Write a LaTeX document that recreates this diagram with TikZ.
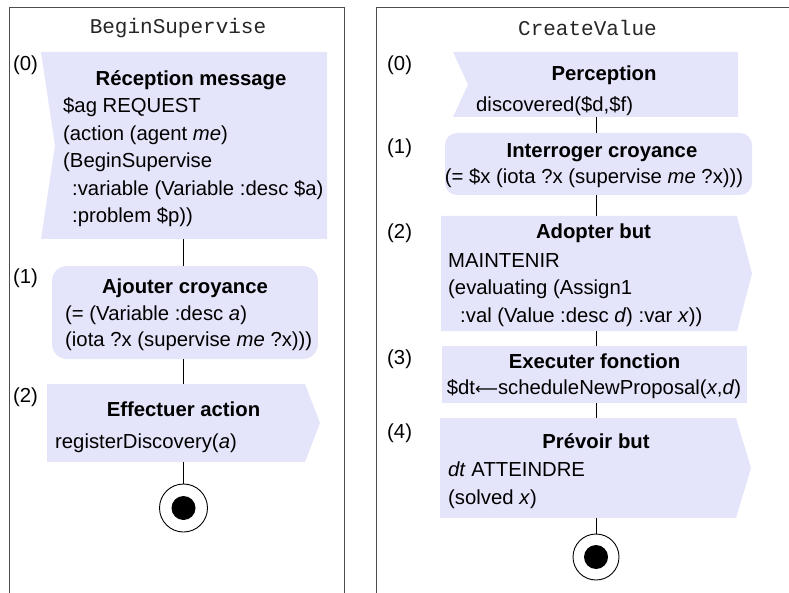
\documentclass[tikz,border=0pt]{standalone}
\usepackage{fontspec}
\setmainfont{Liberation Sans}
\newfontfamily\monofont{Liberation Mono}
\newfontfamily\arrowfont{DejaVu Sans}
\definecolor{boxfill}{RGB}{228,228,250}
\begin{document}
\begin{tikzpicture}[x=1pt,y=-1pt,
  myframe/.style={draw=black!70, line width=1pt},
  myarea/.style={inner sep=0pt, outer sep=0pt, draw=none},
  mytxt/.style={font=\fontsize{20.3}{24}\selectfont, inner sep=0pt, anchor=base west},
  myttl/.style={font=\bfseries\fontsize{20.3}{24}\selectfont, inner sep=0pt, anchor=base},
  mynum/.style={font=\fontsize{20.3}{24}\selectfont, inner sep=0pt, anchor=base west},
  myhead/.style={font=\monofont\fontsize{21}{24}\selectfont, inner sep=0pt, text=black!85},
  mylink/.style={draw=black, line width=0.9pt},
  myendout/.style={circle, draw=black, line width=0.9pt, fill=white, inner sep=0pt},
  myenddot/.style={circle, fill=black, minimum size=24pt, inner sep=0pt},
]
\useasboundingbox (0,0) rectangle (789,593);
\coordinate (lc) at (183.5,0);
\coordinate (rc) at (596,0);

% frames
\draw[myframe] (9.5,600) -- (9.5,8) -- (344,8) -- (344,600);
\draw[myframe] (376,600) -- (376,8) -- (800,8);
\node[myhead] (h1) at (178,28) {BeginSupervise};
\node[myhead] (h2) at (587.5,28) {CreateValue};

% ---------- left column ----------
\node[myarea, minimum width=286pt, minimum height=187pt] (b0) at (184,145.5) {};
\fill[boxfill] (b0.north west) -- (b0.north east) -- (b0.south east) -- (b0.south west) -- ([xshift=14pt]b0.west) -- cycle;
\node[myarea, fill=boxfill, rounded corners=15pt, minimum width=266pt, minimum height=93pt] (b1) at (185,312.5) {};
\node[myarea, minimum width=258pt, minimum height=78pt] (b2) at (176,423) {};
\fill[boxfill] (b2.north west) -- (b2.north east) -- ([xshift=15pt]b2.east) -- (b2.south east) -- (b2.south west) -- cycle;
\node[myendout, minimum size=48pt] (e1) at (183.5,508) {};
\node[myenddot] (d1) at (e1.center) {};

\draw[mylink] (b0.south -| lc) -- (b1.north -| lc);
\draw[mylink] (b1.south -| lc) -- (b2.north -| lc);
\draw[mylink] (b2.south -| lc) -- (e1.north);

\node[mynum] (n0) at (13,71) {(0)};
\node[myttl] (t0) at (191,86) {Réception message};
\node[mytxt] (l01) at (63,113) {\$ag REQUEST};
\node[mytxt] (l02) at (63,140.5) {(action (agent \textit{me})};
\node[mytxt] (l03) at (63,168) {(BeginSupervise};
\node[mytxt] (l04) at (72,195.5) {:variable (Variable :desc \$a)};
\node[mytxt] (l05) at (72,223) {:problem \$p))};

\node[mynum] (n1) at (13,284) {(1)};
\node[myttl] (t1) at (185,294) {Ajouter croyance};
\node[mytxt] (l11) at (65,320.5) {(= (Variable :desc \textit{a})};
\node[mytxt] (l12) at (65,346) {(iota ?x (supervise \textit{me} ?x)))};

\node[mynum] (n2) at (13,402) {(2)};
\node[myttl] (t2) at (183.5,416) {Effectuer action};
\node[mytxt] (l21) at (55,448) {registerDiscovery(\textit{a})};

% ---------- right column ----------
\node[myarea, minimum width=285pt, minimum height=65pt] (r0) at (595.5,84.5) {};
\fill[boxfill] (r0.north west) -- (r0.north east) -- (r0.south east) -- (r0.south west) -- ([xshift=15pt]r0.west) -- cycle;
\node[myarea, fill=boxfill, rounded corners=12pt, minimum width=307pt, minimum height=62pt] (r1) at (598.5,164) {};
\node[myarea, minimum width=296pt, minimum height=115pt] (r2) at (589,273.5) {};
\fill[boxfill] (r2.north west) -- (r2.north east) -- ([xshift=15pt]r2.east) -- (r2.south east) -- (r2.south west) -- cycle;
\node[myarea, fill=boxfill, minimum width=305pt, minimum height=57pt] (r3) at (594.5,374.5) {};
\node[myarea, minimum width=296pt, minimum height=100pt] (r4) at (588,468) {};
\fill[boxfill] (r4.north west) -- (r4.north east) -- ([xshift=15pt]r4.east) -- (r4.south east) -- (r4.south west) -- cycle;
\node[myendout, minimum size=46pt] (e2) at (596,557) {};
\node[myenddot] (d2) at (e2.center) {};

\draw[mylink] (r0.south -| rc) -- (r1.north -| rc);
\draw[mylink] (r1.south -| rc) -- (r2.north -| rc);
\draw[mylink] (r2.south -| rc) -- (r3.north -| rc);
\draw[mylink] (r3.south -| rc) -- (r4.north -| rc);
\draw[mylink] (r4.south -| rc) -- (e2.north);

\node[mynum] (m0) at (387,71) {(0)};
\node[myttl] (s0) at (604,81) {Perception};
\node[mytxt] (k01) at (476,112) {discovered(\$d,\$f)};
\node[mynum] (m1) at (387,154) {(1)};
\node[myttl] (s1) at (602,158) {Interroger croyance};
\node[mytxt, anchor=base] (k11) at (594,184) {(= \$x (iota ?x (supervise \textit{me} ?x)))};
\node[mynum] (m2) at (387,239) {(2)};
\node[myttl] (s2) at (593.5,239) {Adopter but};
\node[mytxt] (k21) at (448,268) {MAINTENIR};
\node[mytxt] (k22) at (448,295) {(evaluating (Assign1};
\node[mytxt] (k23) at (460,323) {:val (Value :desc \textit{d}) :var \textit{x}))};
\node[mynum] (m3) at (387,364) {(3)};
\node[myttl] (s3) at (594.5,368) {Executer fonction};
\node[mytxt, anchor=base] (k31) at (594,394) {\$dt{\arrowfont\fontsize{16}{20}\selectfont ⟵}scheduleNewProposal(\textit{x},\textit{d})};
\node[mynum] (m4) at (387,438) {(4)};
\node[myttl] (s4) at (596,448) {Prévoir but};
\node[mytxt] (k41) at (448,476) {\textit{dt} ATTEINDRE};
\node[mytxt] (k42) at (448,504) {(solved \textit{x})};
\end{tikzpicture}
\end{document}
